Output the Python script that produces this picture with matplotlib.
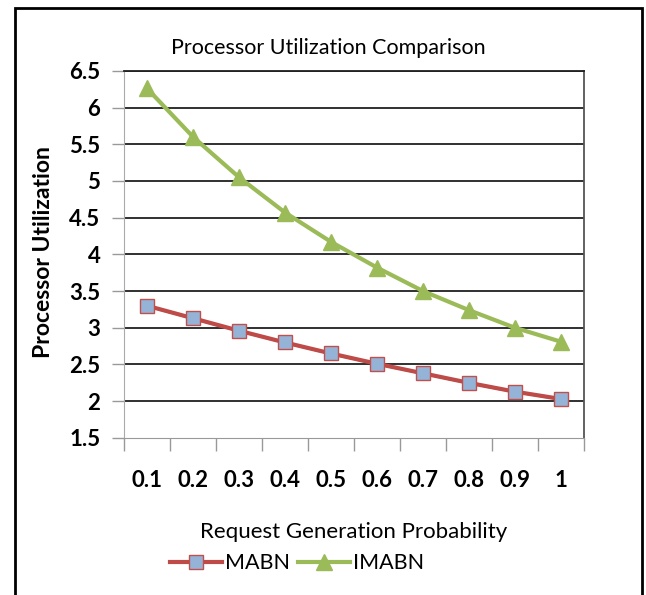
import numpy as np
import matplotlib
matplotlib.use("Agg")
import matplotlib.pyplot as plt
from matplotlib.patches import Rectangle

# data
probs = ["0.1", "0.2", "0.3", "0.4", "0.5", "0.6", "0.7", "0.8", "0.9", "1"]
mabn = [3.30, 3.13, 2.96, 2.80, 2.65, 2.51, 2.38, 2.25, 2.13, 2.03]
mabn_hidden = [3.29, 3.12, 2.95, 2.79, 2.64, 2.50, 2.37, 2.24, 2.12, 2.02]
imabn = [6.26, 5.60, 5.05, 4.57, 4.17, 3.82, 3.50, 3.24, 3.00, 2.81]
yticks = [1.5, 2, 2.5, 3, 3.5, 4, 4.5, 5, 5.5, 6, 6.5]

plt.rcParams['font.family'] = ['Lato', 'DejaVu Sans']

fig = plt.figure(figsize=(6.46, 5.95), dpi=100)
ax = fig.add_axes([0.192, 0.264, 0.712, 0.617])

x = np.arange(len(probs))

# hidden blue series sitting under MABN
ax.plot(x, mabn_hidden, color="#4F81BD", lw=1.2, marker="D", ms=5,
        mfc="#4F81BD", mec="#4F81BD", zorder=3)
ax.plot(x, mabn, color="#BE4B48", lw=3, marker="s", ms=10,
        mfc="#95B3D7", mec="#C0504D", mew=1, label="MABN", zorder=4)
ax.plot(x, imabn, color="#9BBB59", lw=3, marker="^", ms=11,
        mfc="#9BBB59", mec="#9BBB59", label="IMABN", zorder=4)

ax.set_xlim(-0.5, len(probs) - 0.5)
ax.set_ylim(1.5, 6.5)
ax.set_yticks(yticks)
ax.set_yticklabels([f"{v:g}" for v in yticks], fontsize=16, fontweight="bold")
for y in yticks[1:]:
    ax.axhline(y, color="#202020", lw=1.3, zorder=1)

# category ticks at the boundaries, labels in the middle
ax.set_xticks(np.arange(len(probs) + 1) - 0.5)
ax.set_xticklabels([])
ax.set_xticks(x, minor=True)
ax.set_xticklabels(probs, minor=True, fontsize=16, fontweight="bold")
ax.tick_params(axis="x", which="minor", length=0, pad=23)
ax.tick_params(axis="x", which="major", length=9, color="#999999", width=1)
ax.tick_params(axis="y", length=9, color="#999999", width=1, pad=8)

ax.spines["left"].set_color("#aaaaaa")
ax.spines["bottom"].set_color("#999999")
ax.spines["right"].set_color("#555555")
ax.spines["top"].set_color("#202020")
ax.spines["right"].set_linewidth(1.3)
ax.spines["top"].set_linewidth(1.3)

fig.text(0.508, 0.919, "Processor Utilization Comparison", ha="center",
         va="center", fontsize=15.5)
fig.text(0.068, 0.576, "Processor Utilization", rotation=90, ha="center",
         va="center", fontsize=16.5, fontweight="bold")
fig.text(0.548, 0.106, "Request Generation Probability", ha="center",
         va="center", fontsize=16)

fig.legend(loc="center", bbox_to_anchor=(0.46, 0.053), ncol=2, frameon=False,
           fontsize=15.5, handlelength=2.4, handletextpad=0.15,
           columnspacing=0.4, borderpad=0)

# outer chart border
fig.patches.append(Rectangle((15 / 646, -0.05), 627 / 646, 1.036,
                             transform=fig.transFigure, fill=False,
                             ec="black", lw=2))

fig.savefig("out.png", dpi=100)
